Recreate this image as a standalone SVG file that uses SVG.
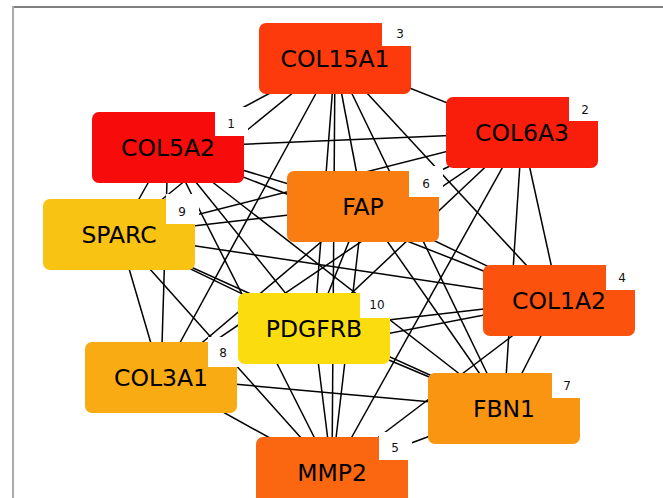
<svg xmlns="http://www.w3.org/2000/svg" width="663" height="498" viewBox="0 0 663 498">
<style>
.e{stroke:#000;stroke-width:1.5;fill:none}
.lbl{font-family:"DejaVu Sans",sans-serif;font-size:23.5px;fill:#000;text-anchor:middle;dominant-baseline:central}
.num{font-family:"DejaVu Sans",sans-serif;font-size:12px;fill:#111;text-anchor:middle;dominant-baseline:central}
.tag{fill:#fff}
</style>
<rect width="663" height="498" fill="#fff"/>
<line x1="13" y1="7" x2="663" y2="7" stroke="#555" stroke-width="1.5"/>
<line x1="13" y1="6" x2="13" y2="498" stroke="#aaa" stroke-width="2"/>
<g id="edges">
<!-- COL5A2 168,147.5 -->
<line class="e" x1="168" y1="147.5" x2="522" y2="132.5"/>
<line class="e" x1="168" y1="147.5" x2="335" y2="58.5"/>
<line class="e" x1="168" y1="147.5" x2="559" y2="300.5"/>
<line class="e" x1="168" y1="147.5" x2="332" y2="472.5"/>
<line class="e" x1="168" y1="147.5" x2="363" y2="206.5"/>
<line class="e" x1="168" y1="147.5" x2="504" y2="408.5"/>
<line class="e" x1="168" y1="147.5" x2="161" y2="377.5"/>
<line class="e" x1="168" y1="147.5" x2="119" y2="234.5"/>
<line class="e" x1="168" y1="147.5" x2="314" y2="328.5"/>
<!-- COL6A3 522,132.5 -->
<line class="e" x1="522" y1="132.5" x2="335" y2="58.5"/>
<line class="e" x1="522" y1="132.5" x2="559" y2="300.5"/>
<line class="e" x1="522" y1="132.5" x2="332" y2="472.5"/>
<line class="e" x1="522" y1="132.5" x2="363" y2="206.5"/>
<line class="e" x1="522" y1="132.5" x2="504" y2="408.5"/>
<line class="e" x1="522" y1="132.5" x2="161" y2="377.5"/>
<line class="e" x1="522" y1="132.5" x2="119" y2="234.5"/>
<line class="e" x1="522" y1="132.5" x2="314" y2="328.5"/>
<!-- COL15A1 335,58.5 -->
<line class="e" x1="335" y1="58.5" x2="559" y2="300.5"/>
<line class="e" x1="335" y1="58.5" x2="332" y2="472.5"/>
<line class="e" x1="335" y1="58.5" x2="363" y2="206.5"/>
<line class="e" x1="335" y1="58.5" x2="504" y2="408.5"/>
<line class="e" x1="335" y1="58.5" x2="161" y2="377.5"/>
<line class="e" x1="335" y1="58.5" x2="119" y2="234.5"/>
<line class="e" x1="335" y1="58.5" x2="314" y2="328.5"/>
<!-- COL1A2 559,300.5 -->
<line class="e" x1="559" y1="300.5" x2="332" y2="472.5"/>
<line class="e" x1="559" y1="300.5" x2="363" y2="206.5"/>
<line class="e" x1="559" y1="300.5" x2="504" y2="408.5"/>
<line class="e" x1="559" y1="300.5" x2="161" y2="377.5"/>
<line class="e" x1="559" y1="300.5" x2="119" y2="234.5"/>
<line class="e" x1="559" y1="300.5" x2="314" y2="328.5"/>
<!-- MMP2 332,472.5 -->
<line class="e" x1="332" y1="472.5" x2="363" y2="206.5"/>
<line class="e" x1="332" y1="472.5" x2="504" y2="408.5"/>
<line class="e" x1="332" y1="472.5" x2="161" y2="377.5"/>
<line class="e" x1="332" y1="472.5" x2="119" y2="234.5"/>
<line class="e" x1="332" y1="472.5" x2="314" y2="328.5"/>
<!-- FAP 363,206.5 -->
<line class="e" x1="363" y1="206.5" x2="504" y2="408.5"/>
<line class="e" x1="363" y1="206.5" x2="161" y2="377.5"/>
<line class="e" x1="363" y1="206.5" x2="119" y2="234.5"/>
<line class="e" x1="363" y1="206.5" x2="314" y2="328.5"/>
<!-- FBN1 504,408.5 -->
<line class="e" x1="504" y1="408.5" x2="161" y2="377.5"/>
<line class="e" x1="504" y1="408.5" x2="119" y2="234.5"/>
<line class="e" x1="504" y1="408.5" x2="314" y2="328.5"/>
<!-- COL3A1 161,377.5 -->
<line class="e" x1="161" y1="377.5" x2="119" y2="234.5"/>
<line class="e" x1="161" y1="377.5" x2="314" y2="328.5"/>
<!-- SPARC -->
<line class="e" x1="119" y1="234.5" x2="314" y2="328.5"/>
</g>
<g id="n1"><rect x="92" y="112" width="152" height="71" rx="7" fill="#F80B0B"/><rect class="tag" x="215" y="107" width="33" height="29"/><text class="lbl" x="168" y="148">COL5A2</text><text class="num" x="231" y="124">1</text></g>
<g id="n2"><rect x="446" y="97" width="152" height="71" rx="7" fill="#F91E0C"/><rect class="tag" x="569" y="92" width="33" height="29"/><text class="lbl" x="522" y="133">COL6A3</text><text class="num" x="585" y="110">2</text></g>
<g id="n3"><rect x="259" y="23" width="152" height="71" rx="7" fill="#FC3A0C"/><rect class="tag" x="382" y="18" width="33" height="28"/><text class="lbl" x="335" y="59">COL15A1</text><text class="num" x="400" y="34">3</text></g>
<g id="n4"><rect x="483" y="265" width="152" height="71" rx="7" fill="#FB520E"/><rect class="tag" x="606" y="260" width="33" height="30"/><text class="lbl" x="559" y="301">COL1A2</text><text class="num" x="622" y="278">4</text></g>
<g id="n5"><rect x="256" y="437" width="152" height="71" rx="7" fill="#FA6710"/><rect class="tag" x="379" y="432" width="33" height="28"/><text class="lbl" x="332" y="473">MMP2</text><text class="num" x="395" y="448">5</text></g>
<g id="n6"><rect x="287" y="171" width="152" height="71" rx="7" fill="#F97D11"/><rect class="tag" x="409" y="166" width="34" height="31"/><text class="lbl" x="363" y="207">FAP</text><text class="num" x="426" y="184">6</text></g>
<g id="n7"><rect x="428" y="373" width="152" height="71" rx="7" fill="#F99511"/><rect class="tag" x="552" y="368" width="33" height="30"/><text class="lbl" x="504" y="409">FBN1</text><text class="num" x="567" y="386">7</text></g>
<g id="n8"><rect x="85" y="342" width="152" height="71" rx="7" fill="#F9AB13"/><rect class="tag" x="208" y="337" width="33" height="30"/><text class="lbl" x="161" y="378">COL3A1</text><text class="num" x="223" y="353">8</text></g>
<g id="n9"><rect x="43" y="199" width="152" height="71" rx="7" fill="#F9C314"/><rect class="tag" x="166" y="194" width="33" height="30"/><text class="lbl" x="119" y="235">SPARC</text><text class="num" x="182" y="212">9</text></g>
<g id="n10"><rect x="238" y="293" width="152" height="71" rx="7" fill="#FBDC0E"/><rect class="tag" x="360" y="288" width="34" height="30"/><text class="lbl" x="314" y="329">PDGFRB</text><text class="num" x="377" y="305">10</text></g>
</svg>
